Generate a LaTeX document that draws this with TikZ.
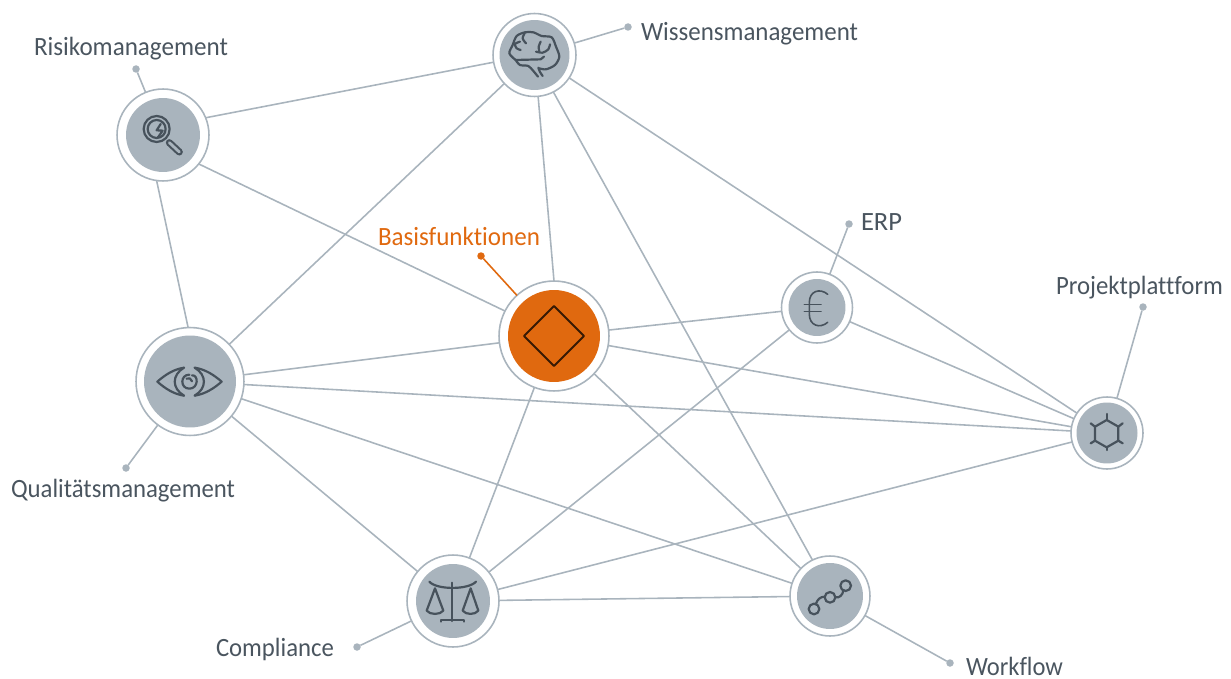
\documentclass[tikz,border=0pt]{standalone}
\usepackage{fontspec}
\usepackage{graphicx}
\setmainfont[Ligatures=NoCommon]{Carlito}
\definecolor{ringgray}{HTML}{A9B4BD}
\definecolor{txtgray}{HTML}{4A555F}
\definecolor{icongray}{HTML}{47525C}
\definecolor{hotorange}{HTML}{E0690F}
\newlength\pxl
\pxl=0.569pt
\newcommand\lbl[2]{\resizebox{#1\pxl}{\height}{#2}}
\tikzset{
  hub/.style={circle,draw=ringgray,line width=0.9pt,fill=white,inner sep=0,outer sep=0,minimum size=#1*0.04cm},
  disc/.style={circle,fill=ringgray,inner sep=0,outer sep=0,minimum size=#1*0.04cm},
  orangedisc/.style={circle,fill=hotorange,inner sep=0,outer sep=0,minimum size=#1*0.04cm},
  leaddot/.style={circle,fill=ringgray,inner sep=0,outer sep=0,minimum size=0.15cm},
  orangedot/.style={circle,fill=hotorange,inner sep=0,outer sep=0,minimum size=0.15cm},
  link/.style={draw=ringgray,line width=0.9pt},
  lab/.style={anchor=base west,inner sep=0,outer sep=0,text=txtgray,font=\fontsize{15}{18}\selectfont},
  icon/.style={draw=icongray,line width=1.25pt,line cap=round,line join=round},
  zoomed/.style={x=0.006667cm,y=-0.006667cm}
}
\begin{document}
\begin{tikzpicture}[x=0.02cm,y=-0.02cm]
\useasboundingbox (0,0) rectangle (1231,679);
% hubs
\node[hub=46] (risk) at (163,135) {};
\node[hub=41.5] (brain) at (534.5,55) {};
\node[hub=54] (eye) at (190,381.5) {};
\node[hub=55] (basis) at (554,336) {};
\node[hub=35.5] (erp) at (817,307.5) {};
\node[hub=36] (proj) at (1107,433) {};
\node[hub=46] (comp) at (453,601) {};
\node[hub=40] (flow) at (830,596) {};
\node[disc=37] (riskin) at (risk) {};
\node[disc=35] (brainin) at (brain) {};
\node[disc=46] (eyein) at (eye) {};
\node[orangedisc=46] (basisin) at (basis) {};
\node[disc=28.5] (erpin) at (erp) {};
\node[disc=30.5] (projin) at (proj) {};
\node[disc=37] (compin) at (comp) {};
\node[disc=33] (flowin) at (flow) {};
% dots
\node[leaddot] (drisk) at (136,69) {};
\node[leaddot] (dbrain) at (628,27) {};
\node[leaddot] (derp) at (849,224) {};
\node[leaddot] (dproj) at (1143,307) {};
\node[leaddot] (deye) at (126,468) {};
\node[leaddot] (dcomp) at (357,647) {};
\node[leaddot] (dflow) at (950,663) {};
\node[orangedot] (dbasis) at (481,256) {};
% links
\foreach \a/\b in {brain/eye,brain/proj,
  basis/eye,basis/erp,basis/proj,basis/comp,basis/flow,erp/proj,erp/comp,eye/proj,eye/flow,eye/comp,
  comp/proj,comp/flow,risk/drisk,brain/dbrain,erp/derp,proj/dproj,eye/deye,comp/dcomp,flow/dflow}
  \draw[link] (\a) -- (\b);
\draw[link] (risk.22.7) -- (brain.190);
\draw[link] (risk.-39) -- (basis.153);
\draw[link] (risk.262.6) -- (eye.92);
\draw[link] (brain.-85) -- (basis.90);
\draw[link] (brain.-63.4) -- (flow.116.6);
\draw[draw=hotorange,line width=0.9pt] (basis) -- (dbasis);
% labels
\node[lab] (trisk) at (34,56) {\lbl{194}{Risikomanagement}};
\node[lab] (tbrain) at (641,41) {\lbl{217}{Wissensmanagement}};
\node[lab,text=hotorange] (tbasis) at (378,245) {\lbl{162}{Basisfunktionen}};
\node[lab] (terp) at (861,230) {\lbl{41}{ERP}};
\node[lab] (tproj) at (1056,294) {\lbl{167}{Projektplattform}};
\node[lab] (teye) at (11,497) {\lbl{224}{Qualitätsmanagement}};
\node[lab] (tcomp) at (216,656) {\lbl{118}{Compliance}};
\node[lab] (tflow) at (966,675.5) {\lbl{97}{Workflow}};
% diamond
\draw[draw=black!75!hotorange,line width=1.1pt,line join=round] (554,306) -- (584,336) -- (554,366) -- (524,336) -- cycle;
% risk icon
\begin{scope}[shift={(100,0)},zoomed]
\draw[icon] (170,387) circle (39);
\draw[icon] (170,387) circle (27);
\draw[icon,line width=4pt] (208,428) -- (238,456);
\draw[draw=ringgray,line width=1.6pt,line cap=round] (208,428) -- (238,456);
\draw[icon] (182,372) -- (170,391) -- (188,392) -- (174,412);
\end{scope}
% brain icon
\begin{scope}[shift={(470,0)},zoomed]
\draw[icon] plot[smooth] coordinates {(137,180) (118,160) (128,135) (140,108) (165,97) (190,97) (215,108) (245,112) (258,140) (268,170) (255,195) (228,208) (208,205)};
\draw[icon] plot[smooth] coordinates {(137,180) (150,195) (175,198) (190,213) (204,230)};
\draw[icon] (137,180) -- (212,178) -- (222,170);
\draw[icon] plot[smooth] coordinates {(205,203) (210,216) (218,228)};
\draw[icon] plot[smooth] coordinates {(165,97) (158,115) (168,130)};
\draw[icon] plot[smooth] coordinates {(150,125) (135,132) (140,145) (152,150)};
\draw[icon] plot[smooth] coordinates {(198,155) (218,158) (235,148) (240,133)};
\draw[icon] plot[smooth] coordinates {(212,125) (206,140) (208,155)};
\end{scope}
% eye icon
\begin{scope}[shift={(120,320)},zoomed]
\draw[icon] (192,143) .. controls (160,148) and (135,165) .. (112,185) .. controls (135,205) and (160,222) .. (192,227);
\draw[icon] (192,143) .. controls (155,165) and (155,205) .. (192,227);
\draw[icon] (224,143) .. controls (256,148) and (282,165) .. (305,185) .. controls (282,205) and (256,222) .. (224,227);
\draw[icon] (224,143) .. controls (261,165) and (261,205) .. (224,227);
\draw[icon] (208,164) .. controls (180,164) and (180,206) .. (208,206) .. controls (236,206) and (236,164) .. (216,166);
\draw[icon] (200,176) .. controls (207,172) and (214,176) .. (216,184);
\end{scope}
% scales icon
\begin{scope}[shift={(400,540)},zoomed]
\draw[icon] (88,125) .. controls (110,150) and (205,150) .. (228,125);
\draw[icon] (157,128) -- (157,243);
\draw[icon] (122,245) -- (122,241) -- (193,241) -- (193,245);
\draw[icon] (130,212) -- (105,145) -- (80,212) .. controls (90,225) and (120,225) .. (130,212) -- cycle;
\draw[icon] (235,212) -- (212,145) -- (188,212) .. controls (198,225) and (225,225) .. (235,212) -- cycle;
\end{scope}
% workflow icon
\begin{scope}[shift={(780,540)},zoomed]
\draw[icon] (102,207) circle (16);
\draw[icon] (150,172) circle (16);
\draw[icon] (197,137) circle (16);
\draw[icon] (108,191) .. controls (112,178) and (122,170) .. (134,170);
\draw[icon] (166,172) .. controls (178,175) and (188,165) .. (190,152);
\end{scope}
% hexagon icon
\begin{scope}[shift={(1060,390)},zoomed]
\draw[icon] (140,90) -- (175,110) -- (175,152) -- (140,172) -- (105,152) -- (105,110) -- cycle;
\draw[icon] (140,90) -- (140,72);
\draw[icon] (175,110) -- (188,100);
\draw[icon] (175,152) -- (188,160);
\draw[icon] (140,172) -- (140,180);
\draw[icon] (105,152) -- (92,160);
\draw[icon] (105,110) -- (92,100);
\end{scope}
% euro icon
\begin{scope}[shift={(775,265)},zoomed]
\draw[icon,line width=0.9pt] (158,88) .. controls (135,68) and (103,78) .. (103,112) -- (103,148) .. controls (103,182) and (135,192) .. (158,172);
\draw[icon,line width=0.9pt] (88,118) -- (138,118);
\draw[icon,line width=0.9pt] (88,140) -- (138,140);
\end{scope}
\end{tikzpicture}
\end{document}
